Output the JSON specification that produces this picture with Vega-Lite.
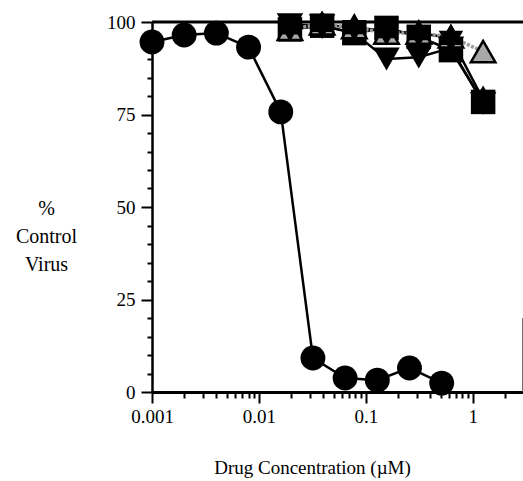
{
  "$schema": "https://vega.github.io/schema/vega-lite/v6.json",
  "width": 371,
  "height": 370,
  "autosize": {"type": "none"},
  "padding": {"left": 152, "top": 22, "right": 0, "bottom": 89},
  "background": "white",
  "config": {
    "view": {"stroke": null},
    "font": "Liberation Serif",
    "axis": {
      "domainColor": "black",
      "tickColor": "black",
      "labelColor": "black",
      "titleColor": "black",
      "labelFont": "Liberation Serif",
      "titleFont": "Liberation Serif",
      "labelFontSize": 19,
      "titleFontSize": 19,
      "titleFontWeight": "normal",
      "grid": false
    }
  },
  "datasets": {
    "circ": [
      {"conc": 0.001, "pct": 94.6},
      {"conc": 0.002, "pct": 96.5},
      {"conc": 0.004, "pct": 97.0},
      {"conc": 0.008, "pct": 93.2},
      {"conc": 0.016, "pct": 75.7},
      {"conc": 0.032, "pct": 9.2},
      {"conc": 0.064, "pct": 3.8},
      {"conc": 0.128, "pct": 3.2},
      {"conc": 0.256, "pct": 6.5},
      {"conc": 0.512, "pct": 2.4}
    ],
    "sq": [
      {"conc": 0.0195, "pct": 98},
      {"conc": 0.039, "pct": 99},
      {"conc": 0.078, "pct": 97},
      {"conc": 0.156, "pct": 98.4},
      {"conc": 0.3125, "pct": 96},
      {"conc": 0.625, "pct": 92.4},
      {"conc": 1.25, "pct": 78.4}
    ],
    "inv": [
      {"conc": 0.0195, "pct": 99.3},
      {"conc": 0.039, "pct": 99},
      {"conc": 0.078, "pct": 97},
      {"conc": 0.156, "pct": 90},
      {"conc": 0.3125, "pct": 90.5},
      {"conc": 0.625, "pct": 93},
      {"conc": 1.25, "pct": 78}
    ],
    "tri": [
      {"conc": 0.0195, "pct": 98},
      {"conc": 0.039, "pct": 99.5},
      {"conc": 0.078, "pct": 98.5},
      {"conc": 0.156, "pct": 97},
      {"conc": 0.3125, "pct": 97},
      {"conc": 0.625, "pct": 96},
      {"conc": 1.25, "pct": 92}
    ],
    "star": [
      {"conc": 0.0195, "pct": 98.5},
      {"conc": 0.039, "pct": 99.2},
      {"conc": 0.078, "pct": 98.6},
      {"conc": 0.156, "pct": 97.5},
      {"conc": 0.3125, "pct": 97},
      {"conc": 0.625, "pct": 95.7},
      {"conc": 1.25, "pct": 79}
    ],
    "top": [
      {"pct": 100}
    ],
    "edge": [
      {"conc": 2.93, "pct": 0, "hi": 20}
    ]
  },
  "encoding": {
    "x": {"field": "conc", "type": "quantitative", "scale": {"type": "log", "domain": [0.001, 2.95], "nice": false},
      "axis": {"orient": "bottom",
        "values": [0.001, 0.002, 0.003, 0.004, 0.005, 0.006, 0.007, 0.008, 0.009, 0.01, 0.02, 0.03, 0.04, 0.05, 0.06, 0.07, 0.08, 0.09, 0.1, 0.2, 0.3, 0.4, 0.5, 0.6, 0.7, 0.8, 0.9, 1, 2],
        "labelExpr": "indexof([0.001, 0.01, 0.1, 1], datum.value) >= 0 ? datum.label : ''",
        "format": "~g",
        "tickSize": {"condition": {"test": "indexof([0.001, 0.01, 0.1, 1], datum.value) >= 0", "value": 11}, "value": 6},
        "tickWidth": 2, "domainWidth": 3, "labelFlush": false, "labelOverlap": false,
        "labelFont": "Liberation Serif", "titleFont": "Liberation Serif",
        "labelPadding": 4, "title": "Drug Concentration (µM)", "titleX": 160, "titleY": 81,
        "titleAlign": "center", "titleBaseline": "alphabetic"}},
    "y": {"field": "pct", "type": "quantitative", "scale": {"domain": [0, 100], "nice": false},
      "axis": {"orient": "left",
        "values": [0, 5, 10, 15, 20, 25, 30, 35, 40, 45, 50, 55, 60, 65, 70, 75, 80, 85, 90, 95, 100],
        "labelExpr": "datum.value % 25 == 0 ? datum.label : ''",
        "tickSize": {"condition": {"test": "datum.value % 25 == 0", "value": 11}, "value": 5},
        "tickWidth": 2, "domainWidth": 2.5, "labelFlush": false, "labelOverlap": false,
        "labelFont": "Liberation Serif", "titleFont": "Liberation Serif",
        "labelPadding": 6, "title": ["%", "Control", "Virus"], "titleAngle": 0, "titleX": -106, "titleY": 186,
        "titleAlign": "center", "titleBaseline": "middle", "titleLineHeight": 28, "titleFontSize": 20}}
  },
  "layer": [
    {
      "data": {"name": "circ"},
      "mark": {"type": "line", "color": "black", "strokeWidth": 2.5}
    },
    {
      "data": {"name": "top"},
      "mark": {"type": "rule", "color": "black", "strokeWidth": 3},
      "encoding": {"x": null}
    },
    {
      "data": {"name": "edge"},
      "mark": {"type": "rule", "color": "#555", "strokeWidth": 1},
      "encoding": {"y2": {"field": "hi"}}
    },
    {
      "data": {"name": "circ"},
      "mark": {"type": "point", "shape": "circle", "filled": true, "color": "black", "opacity": 1, "size": 620}
    },
    {
      "data": {"name": "sq"},
      "mark": {"type": "line", "color": "black", "strokeWidth": 2.5}
    },
    {
      "data": {"name": "inv"},
      "mark": {"type": "line", "color": "black", "strokeWidth": 2.5}
    },
    {
      "data": {"name": "star"},
      "mark": {"type": "line", "color": "black", "strokeWidth": 2.5}
    },
    {
      "data": {"name": "tri"},
      "mark": {"type": "line", "color": "#9a9a9a", "strokeWidth": 3.5, "strokeDash": [3, 1.5]}
    },
    {
      "data": {"name": "sq"},
      "mark": {"type": "point", "shape": "square", "filled": true, "color": "black", "opacity": 1, "size": 600}
    },
    {
      "data": {"name": "inv"},
      "mark": {"type": "point", "shape": "triangle-down", "filled": true, "color": "black", "opacity": 1, "size": 700}
    },
    {
      "data": {"name": "tri"},
      "mark": {"type": "point", "shape": "triangle-up", "filled": true, "fill": "#a8a8a8", "stroke": "black", "strokeWidth": 2.5, "opacity": 1, "fillOpacity": 1, "strokeOpacity": 1, "size": 600}
    },
    {
      "data": {"name": "star"},
      "mark": {"type": "point", "shape": "M0,-1L0.866,0.5L-0.866,0.5Z M0,1L-0.866,-0.5L0.866,-0.5Z", "filled": true, "color": "black", "opacity": 1, "size": 800}
    }
  ]
}
